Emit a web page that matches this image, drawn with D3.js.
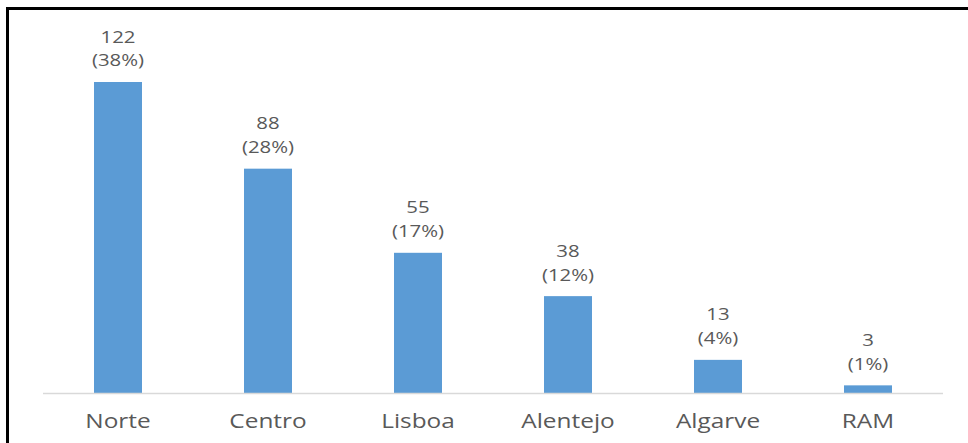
<!DOCTYPE html>
<html>
<head>
<meta charset="utf-8">
<script src="https://cdn.jsdelivr.net/npm/d3@7"></script>
<style>
  html, body { margin: 0; padding: 0; background: #fff; }
  svg { display: block; }
</style>
</head>
<body>
<div id="chart"></div>
<script>
  // Chart data
  const regions = ["Norte", "Centro", "Lisboa", "Alentejo", "Algarve", "RAM"];
  const counts = [122, 88, 55, 38, 13, 3];
  const percents = ["38%", "28%", "17%", "12%", "4%", "1%"];

  const [w, h] = [968, 443];
  const baseY = 393;

  const barColor = "#5b9bd5";
  const textColor = "#595959";
  const axisColor = "#d9d9d9";

  const xScale = d3.scaleBand()
    .domain(regions)
    .range([43, 943])
    .paddingInner(0.68)
    .paddingOuter(0.34);

  const yScale = d3.scaleLinear()
    .domain([0, 122])
    .range([baseY, 82]);

  const svg = d3.select("#chart")
    .append("svg")
    .attr("width", w)
    .attr("height", h);

  // frame (left and top edges only)
  svg.append("path")
    .attr("d", `M7.5,${h} V8.5 H${w}`)
    .attr("fill", "none")
    .attr("stroke", "#000")
    .attr("stroke-width", 3);

  const data = regions.map((r, i) => ({ region: r, count: counts[i], pct: percents[i] }));

  svg.selectAll("rect.bar")
    .data(data)
    .enter()
    .append("rect")
    .attr("class", "bar")
    .attr("x", d => xScale(d.region))
    .attr("y", d => yScale(d.count))
    .attr("width", xScale.bandwidth())
    .attr("height", d => baseY - yScale(d.count))
    .attr("fill", barColor);

  // x axis
  const xAxis = d3.axisBottom(xScale).tickSize(0).tickPadding(0).tickFormat("");
  const axisG = svg.append("g")
    .attr("transform", `translate(0,${baseY})`)
    .call(xAxis);
  axisG.select(".domain").attr("stroke", axisColor).attr("stroke-width", 1.5)
    .attr("d", "M43,0.5H943");

  const cx = d => xScale(d.region) + xScale.bandwidth() / 2;

  // category labels
  svg.selectAll("text.cat")
    .data(data)
    .enter()
    .append("text")
    .attr("class", "cat")
    .attr("transform", d => `translate(${cx(d)},${baseY + 34.5}) scale(1.22,1)`)
    .attr("text-anchor", "middle")
    .attr("font-family", "Open Sans")
    .attr("font-size", 20)
    .attr("fill", textColor)
    .text(d => d.region);

  // value labels: count on first line, share below
  const labels = svg.selectAll("text.lbl")
    .data(data)
    .enter()
    .append("text")
    .attr("class", "lbl")
    .attr("transform", d => `translate(${cx(d)},${yScale(d.count) - 39.5}) scale(1.2,1)`)
    .attr("font-family", "Open Sans")
    .attr("font-size", 17)
    .attr("fill", textColor)
    .attr("text-anchor", "middle");

  labels.append("tspan")
    .attr("x", 0)
    .attr("y", 0)
    .text(d => d.count);

  labels.append("tspan")
    .attr("x", 0)
    .attr("dy", 24)
    .text(d => `(${d.pct})`);
</script>
</body>
</html>
